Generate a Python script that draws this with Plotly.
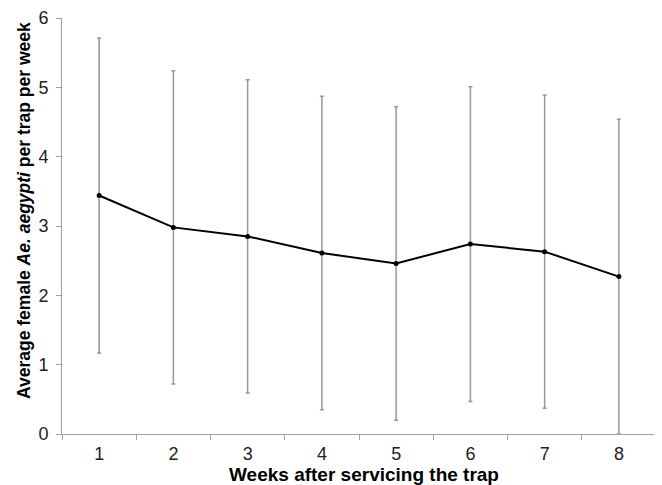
import plotly.graph_objects as go

weeks = ["1", "2", "3", "4", "5", "6", "7", "8"]
mean_females = [3.44, 2.98, 2.85, 2.61, 2.46, 2.74, 2.63, 2.27]
error_sd = [2.27, 2.26, 2.26, 2.26, 2.26, 2.27, 2.26, 2.27]
y_ticks = [0, 1, 2, 3, 4, 5, 6]

x_title = "<b>Weeks after servicing the trap</b>"
y_title = "<b>Average female <i>Ae. aegypti</i> per trap per week</b>"

fig = go.Figure()
fig.add_trace(go.Scatter(
    x=weeks, y=mean_females,
    mode="lines+markers",
    line=dict(color="black", width=2),
    marker=dict(color="black", size=5),
    error_y=dict(type="data", array=error_sd, visible=True,
                 color="#999999", thickness=1.5, width=2),
    showlegend=False,
))

fig.update_layout(
    width=654, height=477,
    margin=dict(l=54, r=6, t=10, b=51, autoexpand=False),
    paper_bgcolor="white", plot_bgcolor="white",
    font=dict(family="Liberation Sans, Arial, sans-serif", color="black"),
    annotations=[
        dict(text=x_title, xref="paper", yref="paper", x=0.5, y=0,
             xanchor="center", yanchor="middle", xshift=5, yshift=-40,
             showarrow=False, font=dict(size=19, color="black")),
        dict(text=y_title, xref="paper", yref="paper", x=0, y=0.5,
             xanchor="center", yanchor="middle", xshift=-38, yshift=15,
             textangle=-90, showarrow=False, font=dict(size=17.5, color="black")),
    ],
)
fig.update_xaxes(
    type="category", range=[-0.5, 7.5], automargin=False,
    tickson="boundaries", ticks="outside", ticklen=5, tickcolor="#a0a0a0",
    showline=True, linecolor="#a0a0a0", linewidth=1,
    showgrid=False, zeroline=False, ticklabelstandoff=3,
    tickfont=dict(size=18, color="#222222"),
)
fig.update_yaxes(
    range=[0, 6], tickvals=y_ticks, automargin=False,
    ticks="outside", ticklen=5, tickcolor="#a0a0a0",
    showline=True, linecolor="#a0a0a0", linewidth=1,
    showgrid=False, zeroline=False, ticklabelstandoff=4,
    tickfont=dict(size=18, color="#222222"),
)

fig.write_html("out.html")
